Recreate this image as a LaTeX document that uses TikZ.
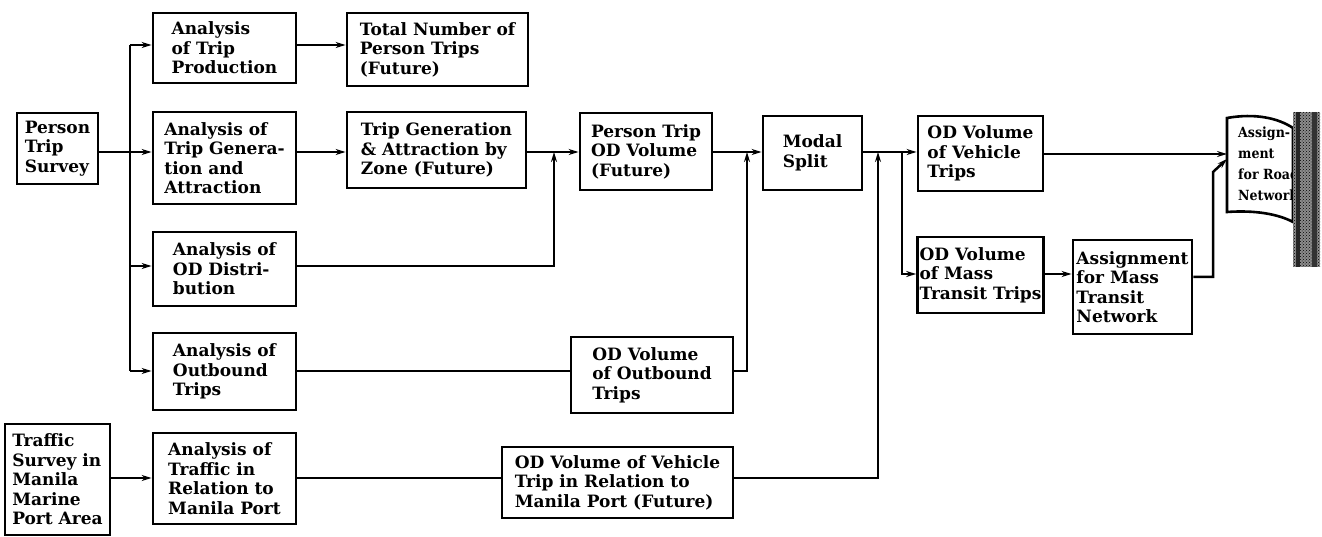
\documentclass[tikz,border=0pt]{standalone}
\usepackage{fontspec}
\setmainfont{DejaVu Serif}
\newfontfamily\condserif{DejaVu Serif Condensed}
\usetikzlibrary{arrows.meta,patterns}
\tikzset{
  box/.style={draw, line width=2.8pt, align=left, inner sep=2pt,
    font=\fontsize{17}{19.5}\selectfont\bfseries},
  conn/.style={line width=2.5pt},
  arr/.style={conn, -{Stealth[length=10pt,width=6pt]}},
}
\begin{document}
\begin{tikzpicture}[x=1pt,y=-1pt]
\useasboundingbox (0,0) rectangle (1322,537);
% boxes
\node[box, minimum width=81pt, minimum height=71pt] (pts) at (57.5,148.5) {Person\\Trip\\Survey};
\node[box, minimum width=143pt, minimum height=70pt] (atp) at (224.5,48) {Analysis\\of Trip\\Production};
\node[box, minimum width=181pt, minimum height=73pt] (tot) at (437.5,49.5) {Total Number of\\Person Trips\\(Future)};
\node[box, minimum width=143pt, minimum height=92pt] (atg) at (224.5,158) {Analysis of\\Trip Genera-\\tion and\\Attraction};
\node[box, minimum width=179pt, minimum height=76pt] (tgz) at (436.5,150) {Trip Generation\\\& Attraction by\\Zone (Future)};
\node[box, minimum width=132pt, minimum height=77pt] (ptod) at (646,151.5) {Person Trip\\OD Volume\\(Future)};
\node[box, minimum width=99pt, minimum height=74pt] (ms) at (812.5,153) {Modal\\Split};
\node[box, minimum width=125pt, minimum height=75pt] (odv) at (980.5,153.5) {OD Volume\\of Vehicle\\Trips};
\node[box, minimum width=125pt, minimum height=76pt] (odm) at (980.5,275) {OD Volume\\of Mass\\Transit Trips};
\node[box, minimum width=119pt, minimum height=94pt] (amt) at (1132.5,287) {Assignment\\for Mass\\Transit\\Network};
\node[box, minimum width=143pt, minimum height=74pt] (aod) at (224.5,269) {Analysis of\\OD Distri-\\bution};
\node[box, minimum width=143pt, minimum height=77pt] (aob) at (224.5,371.5) {Analysis of\\Outbound\\Trips};
\node[box, minimum width=162pt, minimum height=76pt] (odo) at (652,375) {OD Volume\\of Outbound\\Trips};
\node[box, minimum width=105pt, minimum height=111pt] (tsm) at (57.5,479.5) {Traffic\\Survey in\\Manila\\Marine\\Port Area};
\node[box, minimum width=143pt, minimum height=91pt] (atr) at (224.5,478.5) {Analysis of\\Traffic in\\Relation to\\Manila Port};
\node[box, minimum width=231pt, minimum height=71pt] (odp) at (617.5,482.5) {OD Volume of Vehicle\\Trip in Relation to\\Manila Port (Future)};
% flag for road network
\draw[line width=2.6pt] (1227,118) .. controls (1255,113) and (1278,118) .. (1293,128) -- (1293,222)
  .. controls (1278,214) and (1255,210) .. (1227,212) -- cycle;
\node[anchor=north west, align=left, inner sep=0pt,
  font=\fontsize{14}{21}\selectfont\condserif\bfseries] (road) at (1238,127) {Assign-\\ment\\for Road\\Network};
\fill[black!45] (1293,112) rectangle (1320,267);
\fill[pattern=crosshatch dots, pattern color=black] (1293,112) rectangle (1320,267);
\fill[black!85] (1296,112) rectangle (1300,267);
\fill[black!80] (1312,112) rectangle (1317,267);
% junction coordinates
\coordinate (r1) at (0,45);
\coordinate (r2) at (0,152);
\coordinate (r3) at (0,266);
\coordinate (r4) at (0,371);
\coordinate (r5) at (0,478);
\coordinate (r6) at (0,274);
\coordinate (tr) at (130,0);
\coordinate (j1) at (554,0);
\coordinate (j2) at (747,0);
\coordinate (j3) at (878,0);
\coordinate (sp) at (902,0);
\coordinate (j4) at (1213,0);
\coordinate (rd) at (1227,154);
\coordinate (kk) at (1213,172);
\coordinate (rd2) at (1227,159);
% connectors
\draw[conn] (pts.east |- r2) -- (tr |- r2);
\draw[conn] (tr |- r1) -- (tr |- r4);
\draw[arr] (tr |- r1) -- (atp.west |- r1);
\draw[arr] (tr |- r2) -- (atg.west |- r2);
\draw[arr] (tr |- r3) -- (aod.west |- r3);
\draw[arr] (tr |- r4) -- (aob.west |- r4);
\draw[arr] (atp.east |- r1) -- (tot.west |- r1);
\draw[arr] (atg.east |- r2) -- (tgz.west |- r2);
\draw[arr] (tgz.east |- r2) -- (ptod.west |- r2);
\draw[arr] (aod.east |- r3) -- (j1 |- r3) -- (j1 |- r2);
\draw[arr] (ptod.east |- r2) -- (ms.west |- r2);
\draw[conn] (aob.east |- r4) -- (odo.west |- r4);
\draw[arr] (odo.east |- r4) -- (j2 |- r4) -- (j2 |- r2);
\draw[arr] (tsm.east |- r5) -- (atr.west |- r5);
\draw[conn] (atr.east |- r5) -- (odp.west |- r5);
\draw[arr] (odp.east |- r5) -- (j3 |- r5) -- (j3 |- r2);
\draw[conn] (ms.east |- r2) -- (sp |- r2);
\draw[arr] (sp |- r2) -- (odv.west |- r2);
\draw[arr] (sp |- r2) -- (sp |- r6) -- (odm.west |- r6);
\draw[arr] (odm.east |- r6) -- (amt.west |- r6);
\draw[arr] (odv.east |- rd) -- (rd);
\draw[arr] (amt.east |- 0,277) -- (j4 |- 0,277) -- (kk) -- (rd2);
\end{tikzpicture}
\end{document}
